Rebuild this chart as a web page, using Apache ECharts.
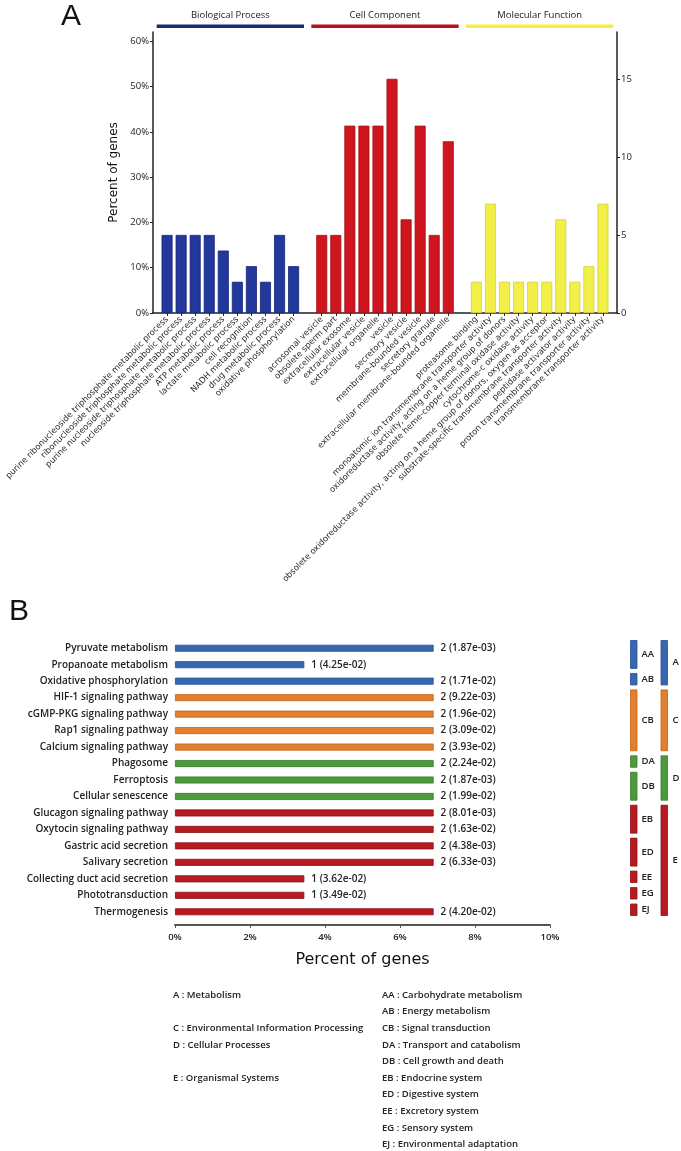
<!DOCTYPE html>
<html><head><meta charset="utf-8">
<script src="https://cdn.jsdelivr.net/npm/echarts@6/dist/echarts.min.js"></script>
<style>html,body{margin:0;padding:0;background:#fff}#c{width:681px;height:1151px}</style>
</head><body><div id="c"></div>
<script>
// ---------- Panel A data (GO terms) ----------
const totalGenes = 29;
const goGroups = ['Biological Process', 'Cell Component', 'Molecular Function'];
const bpTerms = ['purine ribonucleoside triphosphate metabolic process','ribonucleoside triphosphate metabolic process','purine nucleoside triphosphate metabolic process','nucleoside triphosphate metabolic process','ATP metabolic process','lactate metabolic process','cell recognition','NADH metabolic process','drug metabolic process','oxidative phosphorylation'];
const bpCounts = [5,5,5,5,4,2,3,2,5,3];
const ccTerms = ['acrosomal vesicle','obsolete sperm part','extracellular exosome','extracellular vesicle','extracellular organelle','vesicle','secretory vesicle','membrane-bounded vesicle','secretory granule','extracellular membrane-bounded organelle'];
const ccCounts = [5,5,12,12,12,15,6,12,5,11];
const mfTerms = ['proteasome binding','monoatomic ion transmembrane transporter activity','oxidoreductase activity, acting on a heme group of donors','obsolete heme-copper terminal oxidase activity','cytochrome-c oxidase activity','obsolete oxidoreductase activity, acting on a heme group of donors, oxygen as acceptor','substrate-specific transmembrane transporter activity','peptidase activator activity','proton transmembrane transporter activity','transmembrane transporter activity'];
const mfCounts = [2,7,2,2,2,2,6,2,3,7];
const pctTicksA = [0,10,20,30,40,50,60];
const countTicksA = [0,5,10,15];
const countMaxA = 18;

// ---------- Panel B data (KEGG pathways) ----------
const pathways = ['Pyruvate metabolism','Propanoate metabolism','Oxidative phosphorylation','HIF-1 signaling pathway','cGMP-PKG signaling pathway','Rap1 signaling pathway','Calcium signaling pathway','Phagosome','Ferroptosis','Cellular senescence','Glucagon signaling pathway','Oxytocin signaling pathway','Gastric acid secretion','Salivary secretion','Collecting duct acid secretion','Phototransduction','Thermogenesis'];
const pathwayCounts = [2,1,2,2,2,2,2,2,2,2,2,2,2,2,1,1,2];
const pathwayP = ['1.87e-03','4.25e-02','1.71e-02','9.22e-03','1.96e-02','3.09e-02','3.93e-02','2.24e-02','1.87e-03','1.99e-02','8.01e-03','1.63e-02','4.38e-03','6.33e-03','3.62e-02','3.49e-02','4.20e-02'];
const pathwaySub = ['AA','AA','AB','CB','CB','CB','CB','DA','DB','DB','EB','EB','ED','ED','EE','EG','EJ'];
const pctTicksB = [0,2,4,6,8,10];
const mainCodes = ['A','C','D','E'];
const mainLabels = ['Metabolism','Environmental Information Processing','Cellular Processes','Organismal Systems'];
const subCodes = ['AA','AB','CB','DA','DB','EB','ED','EE','EG','EJ'];
const subLabels = ['Carbohydrate metabolism','Energy metabolism','Signal transduction','Transport and catabolism','Cell growth and death','Endocrine system','Digestive system','Excretory system','Sensory system','Environmental adaptation'];

// ---------- styles ----------
const goFill = ['#22389a','#cf151d','#f2ef48'];
const goEdge = ['#15267a','#a50f15','#d6d233'];
const goHead = ['#1b2872','#b9121a','#f3ef3f'];
const keggFill = {A:'#3867b1', C:'#e47f2d', D:'#4c9a3d', E:'#b71a20'};
const keggEdge = {A:'#254f94', C:'#c0641b', D:'#357a29', E:'#8c1015'};
const txtFont = 'Open Sans';

// ---------- build panel A slots ----------
const slotLabels = [''];
const groupRanges = [];
[bpTerms, ccTerms, mfTerms].forEach(t => {
  const s = slotLabels.length;
  t.forEach(x => slotLabels.push(x));
  groupRanges.push([s, slotLabels.length - 1]);
  slotLabels.push('');
});
const groupCounts = [bpCounts, ccCounts, mfCounts];
const seriesA = groupCounts.map((cnts, g) => {
  const data = slotLabels.map(() => '-');
  cnts.forEach((c, k) => { data[groupRanges[g][0] + k] = c / totalGenes * 100; });
  return {
    type: 'bar', name: goGroups[g], xAxisIndex: 0, yAxisIndex: 0, stack: 'go',
    barWidth: 11, data,
    itemStyle: { color: goFill[g], borderColor: goEdge[g], borderWidth: 0.8 },
    silent: true
  };
});

const dataB = pathwayCounts.map((c, i) => {
  const m = pathwaySub[i][0];
  return { value: c / totalGenes * 100, itemStyle: { color: keggFill[m], borderColor: keggEdge[m], borderWidth: 0.8 } };
});

const chart = echarts.init(document.getElementById('c'), null, { renderer: 'canvas' });
const option = {
  animation: false,
  backgroundColor: '#fff',
  grid: [
    { left: 153, width: 464, top: 32, height: 281, outerBoundsMode: 'none', containLabel: false },
    { left: 175, width: 375, top: 640, height: 280, outerBoundsMode: 'none', containLabel: false }
  ],
  xAxis: [
    {
      type: 'category', gridIndex: 0, data: slotLabels, boundaryGap: false,
      axisLine: { lineStyle: { color: '#222', width: 1.5 } },
      axisTick: { show: true, length: 3, interval: (i, v) => v !== '', lineStyle: { color: '#222' } },
      axisLabel: { interval: 0, rotate: 45, fontSize: 8.4, margin: 5, color: '#2a2a2a', fontFamily: 'DejaVu Sans' },
      splitLine: { show: false }
    },
    {
      type: 'value', gridIndex: 1, min: 0, max: 10, interval: 2, offset: 5,
      axisLine: { show: true, lineStyle: { color: '#555', width: 2 } },
      axisTick: { show: true, length: 3, lineStyle: { color: '#555' } },
      axisLabel: { formatter: '{value}%', fontSize: 9.5, color: '#222', margin: 7, fontFamily: txtFont, fontWeight: 600 },
      splitLine: { show: false },
      name: 'Percent of genes', nameLocation: 'middle', nameGap: 27,
      nameTextStyle: { fontSize: 16, color: '#111', fontFamily: 'DejaVu Sans' }
    }
  ],
  yAxis: [
    {
      type: 'value', gridIndex: 0, min: 0, max: countMaxA / totalGenes * 100, position: 'left',
      axisLine: { show: true, lineStyle: { color: '#222', width: 1.5 } },
      axisTick: { show: true, length: 3, customValues: pctTicksA, lineStyle: { color: '#222' } },
      axisLabel: { customValues: pctTicksA, formatter: '{value}%', fontSize: 9.5, color: '#222', margin: 4, fontFamily: txtFont },
      splitLine: { show: false },
      name: 'Percent of genes', nameLocation: 'middle', nameRotate: 90, nameGap: 23,
      nameTextStyle: { fontSize: 12, color: '#111', fontFamily: 'DejaVu Sans' }
    },
    {
      type: 'value', gridIndex: 0, min: 0, max: countMaxA, position: 'right',
      axisLine: { show: true, lineStyle: { color: '#222', width: 1.5 } },
      axisTick: { show: true, length: 3, customValues: countTicksA, lineStyle: { color: '#222' } },
      axisLabel: { customValues: countTicksA, fontSize: 9.5, color: '#222', margin: 4, fontFamily: txtFont },
      splitLine: { show: false }
    },
    {
      type: 'category', gridIndex: 1, data: pathways, inverse: true,
      axisLine: { show: false }, axisTick: { show: false },
      axisLabel: { interval: 0, fontSize: 10, color: '#222', margin: 7, fontFamily: txtFont, fontWeight: 600 }
    }
  ],
  series: seriesA.concat([{
    type: 'bar', xAxisIndex: 1, yAxisIndex: 2, barWidth: 7, data: dataB, silent: true,
    label: {
      show: true, position: 'right', distance: 7, fontSize: 10, color: '#222', fontFamily: txtFont, fontWeight: 600,
      formatter: p => pathwayCounts[p.dataIndex] + ' (' + pathwayP[p.dataIndex] + ')'
    }
  }])
};
chart.setOption(option);

// ---------- annotations computed from the axes ----------
const num = v => Array.isArray(v) ? v : [v, v];
const g = [];
g.push({ type: 'text', left: 61, top: 2, style: { text: 'A', fontSize: 30, fontFamily: 'Liberation Sans', fill: '#111' } });
g.push({ type: 'text', left: 9, top: 597, style: { text: 'B', fontSize: 30, fontFamily: 'Liberation Sans', fill: '#111' } });

const px = i => num(chart.convertToPixel({ xAxisIndex: 0 }, i))[0];
const pitch = px(1) - px(0);
groupRanges.forEach((r, k) => {
  const x0 = px(r[0]) - 0.74 * pitch, x1 = px(r[1]) + 0.74 * pitch;
  g.push({ type: 'rect', shape: { x: x0, y: 24.5, width: x1 - x0, height: 3.5 }, style: { fill: goHead[k] } });
  g.push({ type: 'text', x: (x0 + x1) / 2, y: 15, style: { text: goGroups[k], fontSize: 9.5, fontFamily: txtFont, fill: '#222', align: 'center', verticalAlign: 'middle' } });
});

const py = i => num(chart.convertToPixel({ yAxisIndex: 2 }, i))[1];
const band = py(1) - py(0);
function spans(codes) {
  const out = [];
  codes.forEach((c, i) => {
    if (out.length && out[out.length - 1].code === c) out[out.length - 1].end = i;
    else out.push({ code: c, start: i, end: i });
  });
  return out;
}
const boxCol = (list, xBox, xTxt) => list.forEach(s => {
  const m = s.code[0];
  const y0 = py(s.start) - band / 2 + 0.5, y1 = py(s.end) + band / 2 - 4.5;
  g.push({ type: 'rect', shape: { x: xBox, y: y0, width: 6.5, height: y1 - y0 }, style: { fill: keggFill[m], stroke: keggEdge[m], lineWidth: 0.8 } });
  g.push({ type: 'text', x: xTxt, y: (y0 + y1) / 2, style: { text: s.code, fontSize: 9.5, fontFamily: txtFont, fontWeight: 600, fill: '#222', verticalAlign: 'middle' } });
});
boxCol(spans(pathwaySub), 630.5, 641.5);
boxCol(spans(pathwaySub.map(c => c[0])), 661, 672.5);

// legend text
const legTop = 995, legPitch = 16.6;
subCodes.forEach((c, i) => {
  g.push({ type: 'text', x: 382, y: legTop + i * legPitch, style: { text: c + ' : ' + subLabels[i], fontSize: 9.5, fontFamily: txtFont, fontWeight: 600, fill: '#222', verticalAlign: 'middle' } });
});
mainCodes.forEach((c, i) => {
  const row = subCodes.findIndex(s => s[0] === c);
  g.push({ type: 'text', x: 173, y: legTop + row * legPitch, style: { text: c + ' : ' + mainLabels[i], fontSize: 9.5, fontFamily: txtFont, fontWeight: 600, fill: '#222', verticalAlign: 'middle' } });
});
chart.setOption({ graphic: g });
</script>
</body></html>
